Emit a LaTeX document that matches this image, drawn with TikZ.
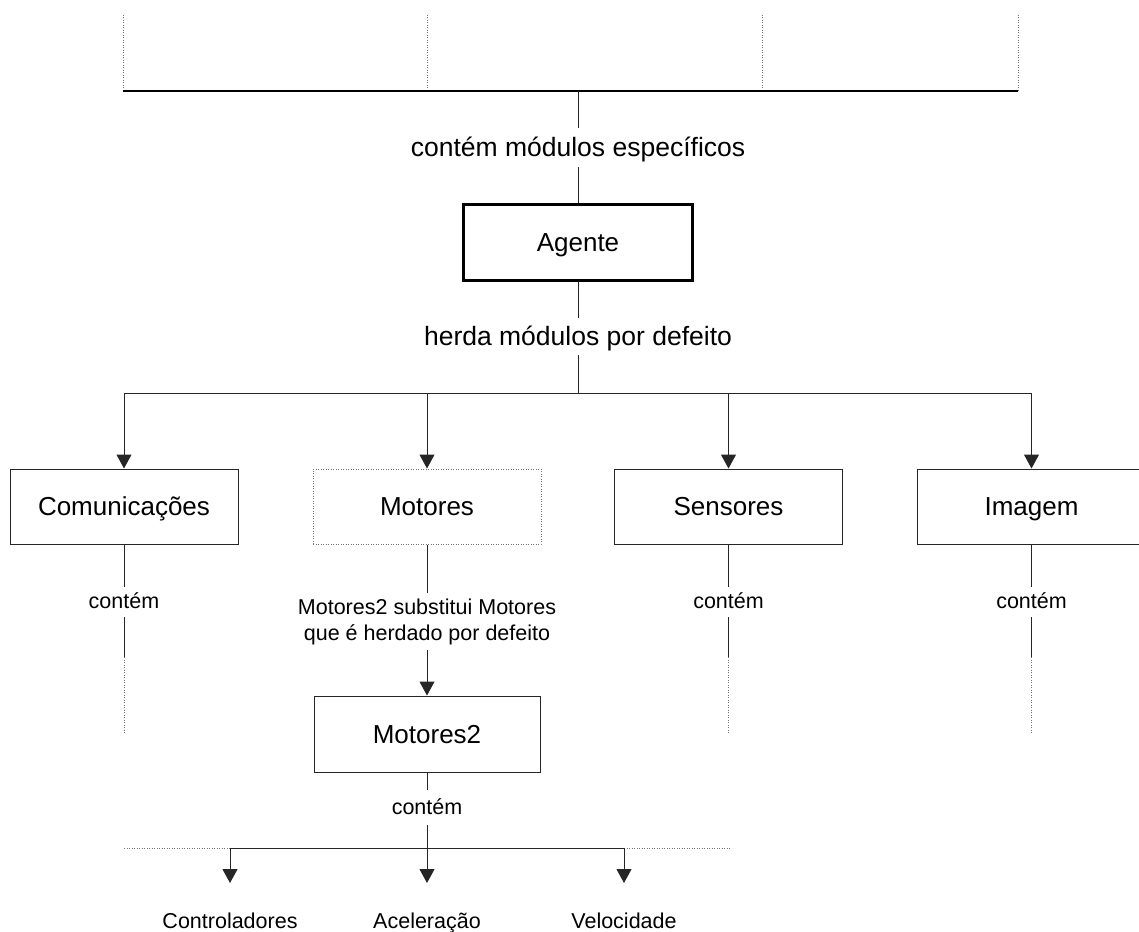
\documentclass[tikz,border=0pt]{standalone}
\usepackage{fontspec}
\setmainfont{Liberation Sans}
\usetikzlibrary{arrows.meta}
\begin{document}
\begin{tikzpicture}[x=1pt,y=-1pt,
  conn/.style={draw=black!85, line width=1pt},
  dotline/.style={draw=black!55, line width=1pt, dash pattern=on 1pt off 1.5pt},
  arr/.style={conn, -{Triangle[width=15pt,length=14pt]}},
  box/.style={draw=black!85, line width=1pt, minimum width=228pt, minimum height=75pt,
    inner sep=0pt, font=\fontsize{26}{30}\selectfont, text height=23.4pt, text depth=5.2pt},
  mainbox/.style={box, draw=black, line width=3pt, minimum width=229pt, minimum height=76pt},
  dotbox/.style={box, dotline},
  biglabel/.style={inner sep=0pt, font=\fontsize{26.5}{30}\selectfont,
    text height=21pt, text depth=4pt},
  smalllabel/.style={inner sep=0pt, font=\fontsize{21.5}{26}\selectfont,
    text height=17pt, text depth=4pt},
  leaf/.style={inner sep=0pt, outer ysep=29.5pt, anchor=base,
    font=\fontsize{21.5}{26}\selectfont, text height=15.5pt, text depth=0pt}]
\useasboundingbox (0,0) rectangle (1139,931);

% --- upper level: specific modules ---
\coordinate (t1) at (123,91);
\coordinate (t2) at (427,91);
\coordinate (t3) at (762,91);
\coordinate (t4) at (1018,91);
\coordinate (u1) at (123,15);
\coordinate (u2) at (427,15);
\coordinate (u3) at (762,15);
\coordinate (u4) at (1018,15);
\coordinate (topmid) at (578,91);
\foreach \i in {1,2,3,4} \draw[dotline] (t\i) -- (u\i);
\draw[draw=black, line width=1.8pt] (t1) -- (t4);

\node[biglabel, minimum height=39pt] (especificos) at (578,147.5) {contém módulos específicos};
\node[mainbox] (agente) at (578,242) {Agente};
\node[biglabel, minimum height=37pt] (herda) at (578,336.5) {herda módulos por defeito};
\coordinate (split) at (578,393);

\draw[conn] (topmid) -- (especificos.north);
\draw[conn] (especificos.south) -- (agente.north);
\draw[conn] (agente.south) -- (herda.north);
\draw[conn] (herda.south) -- (split);

% --- default modules ---
\node[box] (com) at (124,506.5) {Comunicações};
\node[dotbox] (mot) at (427,506.5) {Motores};
\node[box] (sen) at (728.5,506.5) {Sensores};
\node[box] (img) at (1031.5,506.5) {Imagem};

\draw[conn] (com.north |- split) -- (img.north |- split);
\foreach \m in {com,mot,sen,img} \draw[arr] (\m.north |- split) -- (\m.north);

% --- contents of each module ---
\foreach \m/\x in {com/124,sen/728.5,img/1031.5}{
  \node[smalllabel, minimum height=30pt] (\m C) at (\x,602) {contém};
  \coordinate (\m D) at (\x,657);
  \coordinate (\m E) at (\x,733);
  \draw[conn] (\m.south) -- (\m C.north);
  \draw[conn] (\m C.south) -- (\m D);
  \draw[dotline] (\m D) -- (\m E);
}

% --- replacement of Motores ---
\node[inner sep=0pt, font=\fontsize{21.5}{26}\selectfont, align=center, minimum height=56pt]
  (subst) at (427,621.5) {Motores2 substitui Motores\\que é herdado por defeito};
\node[box, minimum width=226pt, minimum height=76pt] (mot2) at (427,734) {Motores2};
\draw[conn] (mot.south) -- (subst.north);
\draw[arr] (subst.south) -- (mot2.north);

\node[smalllabel, minimum height=35pt] (mot2C) at (427,807.5) {contém};
\coordinate (bsplit) at (427,848);
\coordinate (bl) at (124,848);
\coordinate (br) at (731,848);
\draw[conn] (mot2.south) -- (mot2C.north);
\draw[conn] (mot2C.south) -- (bsplit);

\node[leaf] (ctrl) at (230,928) {Controladores};
\node[leaf] (acel) at (427,928) {Aceleração};
\node[leaf] (vel) at (624,928) {Velocidade};

\draw[dotline] (bl) -- (ctrl.north |- bl);
\draw[dotline] (vel.north |- br) -- (br);
\draw[conn] (ctrl.north |- bsplit) -- (vel.north |- bsplit);
\foreach \m in {ctrl,acel,vel} \draw[arr] (\m.north |- bsplit) -- (\m.north);
\end{tikzpicture}
\end{document}
